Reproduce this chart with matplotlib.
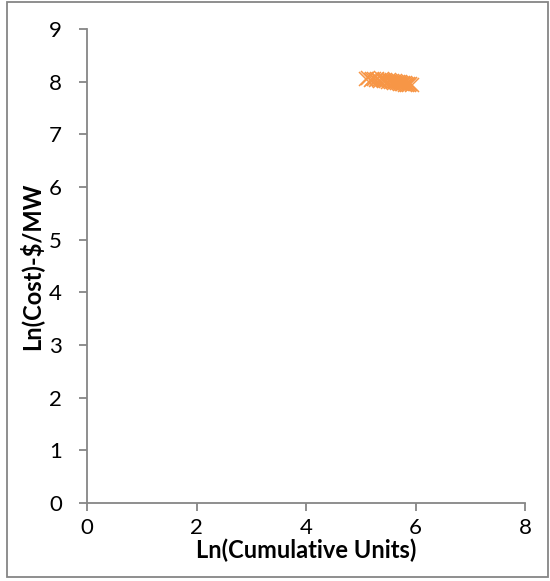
import numpy as np
import matplotlib.pyplot as plt

# ln(cumulative units) vs ln(cost $/MW)
ln_units = [5.10, 5.14, 5.18, 5.21, 5.24, 5.27, 5.30, 5.33, 5.35, 5.38,
            5.40, 5.42, 5.45, 5.47, 5.49, 5.51, 5.53, 5.55, 5.57, 5.59,
            5.61, 5.63, 5.64, 5.66, 5.68, 5.69, 5.71, 5.72, 5.74, 5.75,
            5.77, 5.78, 5.80, 5.81, 5.83, 5.84, 5.86, 5.88, 5.90, 5.93]
ln_cost = [8.06, 8.07, 8.04, 8.06, 8.05, 8.03, 8.06, 8.04, 8.02, 8.05,
           8.03, 8.01, 8.04, 8.02, 8.00, 8.03, 8.01, 7.99, 8.02, 8.00,
           7.98, 8.01, 7.99, 7.97, 8.00, 7.98, 7.96, 7.99, 7.97, 7.95,
           7.98, 7.96, 7.94, 7.97, 7.95, 7.93, 7.96, 7.94, 7.95, 7.93]

xticks = [0, 2, 4, 6, 8]
yticks = [0, 1, 2, 3, 4, 5, 6, 7, 8, 9]

plt.rcParams['font.family'] = ['Lato', 'DejaVu Sans']
grey = '#868686'

fig = plt.figure(figsize=(5.5, 5.81), dpi=100)
ax = fig.add_axes([87/550, 1 - 503/581, (525-87)/550, (503-29)/581])

ax.plot(ln_units, ln_cost, linestyle='none', marker='x', color='#F79646',
        markersize=10, markeredgewidth=1.1)

ax.set_xlim(0, 8)
ax.set_ylim(0, 9)
ax.set_xticks(xticks)
ax.set_yticks(yticks)
for s in ['top', 'right']:
    ax.spines[s].set_visible(False)
for s in ['left', 'bottom']:
    ax.spines[s].set_color(grey)
    ax.spines[s].set_linewidth(1.3)
ax.tick_params(direction='out', length=6, width=1.3, color=grey,
               labelsize=16, labelcolor='black')
ax.tick_params(axis='y', pad=12)
ax.tick_params(axis='x', pad=5)
ax.set_xlabel('Ln(Cumulative Units)', fontsize=17, fontweight='bold', labelpad=0)
ax.set_ylabel('Ln(Cost)-$/MW', fontsize=17, fontweight='bold', labelpad=4)

# border around the chart area
fig.add_artist(plt.Rectangle((7/550, 4/581), 541/550, 1 - 6/581, fill=False,
                             edgecolor=grey, linewidth=1.3,
                             transform=fig.transFigure))

fig.savefig('out.png', dpi=100)
